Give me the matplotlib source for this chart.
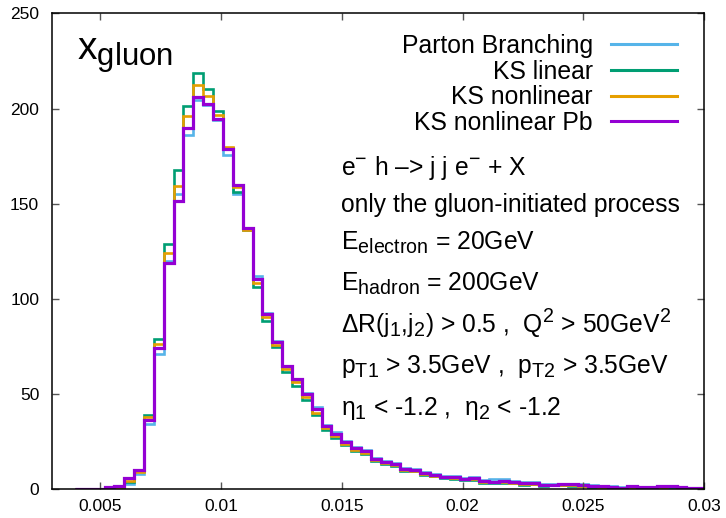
import matplotlib
matplotlib.use('Agg')
import matplotlib.pyplot as plt
import matplotlib._mathtext as mathtext_internals
import numpy as np

plt.rcParams['font.family'] = ['Liberation Sans', 'DejaVu Sans']
plt.rcParams['mathtext.fontset'] = 'custom'
plt.rcParams['mathtext.rm'] = 'Liberation Sans'
plt.rcParams['mathtext.it'] = 'Liberation Sans:italic'
# gnuplot-style sub/superscripts are a bit larger than matplotlib's default
mathtext_internals.SHRINK_FACTOR = 0.8

# histogram binning (x_gluon)
bin_lo = 0.003965
bin_width = 0.000408
n_bins = 64

parton_branching = [0, 0, 0.1, 0.6, 0.8, 2.8, 8, 34.5, 71, 120, 155.3, 186.1, 204.5, 201.7,
                    193.8, 175.4, 154.9, 137.5, 111.9, 92.5, 78, 64, 57.5, 50.5, 43, 34,
                    30, 25.5, 22, 20.5, 16.5, 15, 14, 11, 10.8, 9, 8, 7.2, 6.8, 6, 6.2, 5,
                    5.3, 5.3, 4.5, 3.8, 3.6, 2.6, 2.8, 3, 3.0, 2.6, 2.4, 1.8, 1.6, 1.1, 1.8,
                    1.1, 1.4, 1.6, 1.6, 1.0, 0.9, 0.8]
ks_linear = [0, 0, 0.2, 0.8, 1.2, 3.7, 9.5, 39, 79, 129, 167.7, 201.4, 218.4, 210.5,
             198.7, 179.5, 156, 136, 106.3, 88.2, 74.7, 61.4, 54, 47, 39, 31,
             27, 23.5, 20, 18.5, 15, 13.5, 12.5, 9.5, 9.5, 7.5, 7, 6, 5.5, 5, 4.8, 3.5,
             3.3, 3.5, 3.2, 2.5, 2.8, 1.8, 2.0, 2.0, 1.8, 1.5, 1.2, 1.0, 1.0, 0.6, 1.2,
             0.6, 0.9, 1.2, 1.3, 0.6, 0.6, 0.5]
ks_nonlinear = [0, 0, 0.2, 1, 1.3, 4.4, 9, 37.8, 76.5, 124, 159.3, 196.1, 212.3, 206.6,
                196.5, 180, 158.9, 136.1, 108.4, 90.5, 75.9, 63.3, 56.6, 48.5, 40, 32,
                28, 24, 20.5, 19, 15.5, 14, 13, 10, 9.8, 8, 7.2, 6.3, 5.8, 5.2, 5.3, 4,
                3.7, 3.8, 3.5, 2.9, 3, 2, 2.2, 2.3, 2.2, 1.7, 1.5, 1.2, 1.2, 0.8, 1.4,
                0.8, 1.1, 1.4, 1.5, 0.8, 0.7, 0.6]
ks_nonlinear_pb = [0, 0, 0.3, 1.2, 1.5, 5.8, 10, 36.5, 74, 119, 151.4, 189.6, 206, 202.6,
                   194.7, 178.9, 159.8, 137, 110.5, 92.3, 77.2, 64.9, 58, 50, 42, 33,
                   29, 25, 21.5, 20, 16, 14.5, 13.5, 10.5, 10, 8.5, 7.5, 6.6, 6.2, 5.4, 5.8, 4.4,
                   4, 4.2, 3.8, 3.2, 3.2, 2.3, 2.5, 2.6, 2.6, 2.0, 1.9, 1.5, 1.4, 0.9, 1.7,
                   1.0, 1.4, 1.6, 1.7, 1.0, 0.9, 0.8]

series = [('Parton Branching', parton_branching, '#56b4e9'),
          ('KS linear', ks_linear, '#009e73'),
          ('KS nonlinear', ks_nonlinear, '#e69f00'),
          ('KS nonlinear Pb', ks_nonlinear_pb, '#9400d3')]

xticks = [0.005, 0.01, 0.015, 0.02, 0.025, 0.03]
xtick_labels = ['0.005', '0.01', '0.015', '0.02', '0.025', '0.03']
yticks = [0, 50, 100, 150, 200, 250]

edges = bin_lo + bin_width * np.arange(n_bins + 1)

fig = plt.figure(figsize=(7.26, 5.18), dpi=100)
ax = fig.add_axes([0.0712, 0.0554, 0.8989, 0.9189])

for label, vals, color in series:
    lw = 2.3 if label == 'KS nonlinear Pb' else 1.9
    ax.stairs(vals, edges, color=color, linewidth=lw, label=label, baseline=0)

ax.set_xlim(0.003, 0.03)
ax.set_ylim(0, 250)
ax.set_xticks(xticks)
ax.set_xticklabels(xtick_labels)
ax.set_yticks(yticks)
ax.tick_params(direction='in', top=True, right=True, length=5, width=1,
               color='#555555', labelsize=12.5, pad=7)
ax.tick_params(axis='y', pad=9)
for s in ax.spines.values():
    s.set_linewidth(1.1)

leg = ax.legend(loc='upper right', bbox_to_anchor=(0.958, 0.957), frameon=False,
                fontsize=17.8, markerfirst=False, handlelength=2.68, handletextpad=0.72,
                labelspacing=0.07, borderpad=0, borderaxespad=0)
for h in leg.get_lines():
    h.set_linewidth(2.2)

ax.text(77, 518 - 60, r'x$_{\mathrm{gluon}}$', transform=None, fontsize=28,
        ha='left', va='baseline')

notes = [r'e$^{-}$ h –> j j e$^{-}$ + X',
         'only the gluon-initiated process',
         r'E$_{\mathrm{electron}}$ = 20GeV',
         r'E$_{\mathrm{hadron}}$ = 200GeV',
         r'ΔR(j$_1$,j$_2$) > 0.5 ,  Q$^2$ > 50GeV$^2$',
         r'p$_{\mathrm{T1}}$ > 3.5GeV ,  p$_{\mathrm{T2}}$ > 3.5GeV',
         r'η$_1$ < -1.2 ,  η$_2$ < -1.2']
note_y = [168, 205, 243, 284, 323, 367, 409]
for txt, py in zip(notes, note_y):
    ax.text(341, 518 - py, txt, transform=None, fontsize=17.7, ha='left', va='center')

fig.savefig('out.png', dpi=100)
